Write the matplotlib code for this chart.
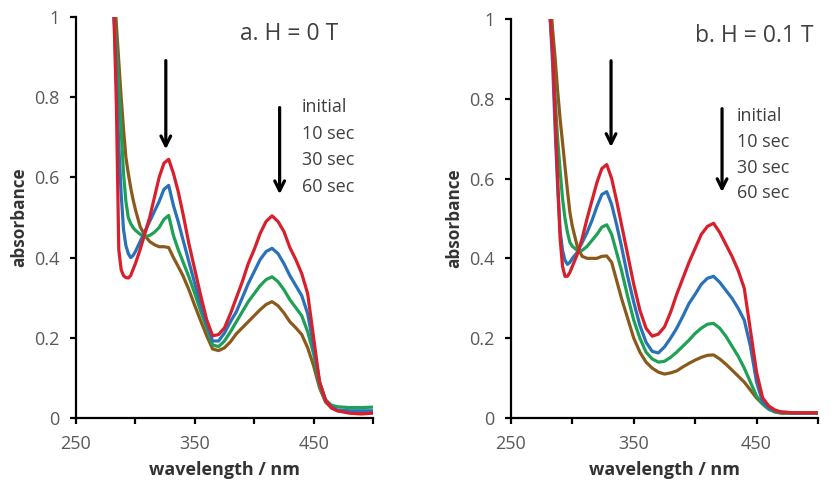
import matplotlib
matplotlib.use('Agg')
import matplotlib.pyplot as plt

plt.rcParams['font.family'] = ['Open Sans', 'DejaVu Sans']

wavelength = [282, 284, 286, 288, 290, 292, 294, 296, 298, 300, 304, 308, 312, 316,
              320, 324, 328, 332, 336, 340, 345, 350, 355, 360, 365, 370, 375, 380,
              385, 390, 395, 400, 405, 410, 415, 420, 425, 430, 435, 440, 445, 450,
              455, 460, 465, 470, 480, 490, 500]

# panel a, H = 0 T
a_initial = [1.0, 0.78, 0.42, 0.37, 0.355, 0.35, 0.349, 0.355, 0.37, 0.385, 0.42, 0.46, 0.50, 0.55,
             0.60, 0.635, 0.645, 0.61, 0.565, 0.51, 0.435, 0.37, 0.305, 0.245, 0.205, 0.208, 0.225, 0.26,
             0.30, 0.34, 0.385, 0.42, 0.46, 0.49, 0.504, 0.49, 0.465, 0.425, 0.395, 0.36, 0.31, 0.20,
             0.09, 0.045, 0.025, 0.018, 0.012, 0.01, 0.012]
a_10 = [1.0, 0.85, 0.68, 0.56, 0.47, 0.43, 0.41, 0.40, 0.405, 0.415, 0.44, 0.465, 0.49, 0.515,
        0.54, 0.57, 0.58, 0.53, 0.49, 0.445, 0.39, 0.335, 0.283, 0.235, 0.192, 0.192, 0.212, 0.24,
        0.265, 0.30, 0.335, 0.365, 0.395, 0.415, 0.423, 0.41, 0.385, 0.355, 0.33, 0.305, 0.26, 0.18,
        0.09, 0.045, 0.028, 0.02, 0.018, 0.018, 0.018]
a_30 = [1.0, 0.92, 0.82, 0.72, 0.61, 0.54, 0.50, 0.485, 0.475, 0.468, 0.458, 0.452, 0.455, 0.463,
        0.475, 0.495, 0.505, 0.455, 0.42, 0.39, 0.352, 0.31, 0.266, 0.225, 0.182, 0.178, 0.192, 0.215,
        0.24, 0.265, 0.29, 0.31, 0.33, 0.345, 0.352, 0.34, 0.32, 0.295, 0.275, 0.255, 0.215, 0.16,
        0.08, 0.045, 0.032, 0.028, 0.026, 0.026, 0.027]
a_60 = [1.08, 0.98, 0.89, 0.80, 0.72, 0.65, 0.61, 0.575, 0.545, 0.52, 0.477, 0.455, 0.44, 0.432,
        0.427, 0.427, 0.425, 0.40, 0.378, 0.355, 0.32, 0.28, 0.242, 0.205, 0.172, 0.168, 0.175, 0.19,
        0.21, 0.225, 0.24, 0.255, 0.27, 0.283, 0.29, 0.28, 0.262, 0.24, 0.225, 0.208, 0.175, 0.13,
        0.075, 0.04, 0.025, 0.018, 0.015, 0.015, 0.016]

# panel b, H = 0.1 T
b_initial = [1.0, 0.92, 0.76, 0.60, 0.45, 0.38, 0.355, 0.355, 0.365, 0.38, 0.41, 0.45, 0.50, 0.545,
             0.59, 0.625, 0.635, 0.60, 0.545, 0.485, 0.41, 0.335, 0.27, 0.225, 0.205, 0.21, 0.228, 0.265,
             0.31, 0.35, 0.39, 0.425, 0.46, 0.48, 0.488, 0.465, 0.435, 0.405, 0.37, 0.325, 0.22, 0.115,
             0.05, 0.03, 0.02, 0.015, 0.013, 0.013, 0.013]
b_10 = [1.0, 0.88, 0.72, 0.58, 0.47, 0.42, 0.395, 0.385, 0.39, 0.40, 0.415, 0.44, 0.465, 0.495,
        0.53, 0.56, 0.567, 0.535, 0.485, 0.43, 0.355, 0.29, 0.232, 0.19, 0.167, 0.163, 0.178, 0.20,
        0.225, 0.255, 0.287, 0.31, 0.335, 0.35, 0.355, 0.34, 0.32, 0.30, 0.275, 0.245, 0.18, 0.09,
        0.04, 0.025, 0.018, 0.015, 0.013, 0.013, 0.013]
b_30 = [1.0, 0.92, 0.80, 0.70, 0.62, 0.55, 0.50, 0.465, 0.44, 0.43, 0.42, 0.42, 0.43, 0.445,
        0.46, 0.478, 0.484, 0.46, 0.415, 0.37, 0.305, 0.245, 0.20, 0.165, 0.148, 0.14, 0.142, 0.152,
        0.165, 0.18, 0.195, 0.212, 0.225, 0.235, 0.237, 0.225, 0.205, 0.18, 0.155, 0.125, 0.09, 0.055,
        0.035, 0.022, 0.016, 0.013, 0.012, 0.012, 0.012]
b_60 = [1.05, 0.97, 0.90, 0.82, 0.75, 0.69, 0.63, 0.57, 0.515, 0.48, 0.43, 0.405, 0.40, 0.40,
        0.40, 0.405, 0.406, 0.39, 0.345, 0.30, 0.25, 0.20, 0.165, 0.14, 0.125, 0.115, 0.11, 0.113,
        0.118, 0.128, 0.137, 0.145, 0.152, 0.157, 0.158, 0.148, 0.135, 0.12, 0.105, 0.09, 0.07, 0.05,
        0.035, 0.022, 0.015, 0.012, 0.012, 0.012, 0.012]

series_labels = ['initial', '10 sec', '30 sec', '60 sec']
colors = ['#d8202c', '#2a72b8', '#1fa055', '#8a5a1c']


def draw_panel(ax, curves, title, title_x, arrows, label_x, label_y):
    # draw oldest last -> red on top
    for ys, c in reversed(list(zip(curves, colors))):
        ax.plot(wavelength, ys, color=c, lw=2.3, solid_capstyle='round')
    ax.set_xlim(250, 500)
    ax.set_ylim(0, 1)
    ax.set_xticks([250, 300, 350, 400, 450, 500])
    ax.set_xticklabels(['250', '', '350', '', '450', ''])
    ax.set_yticks([0, 0.2, 0.4, 0.6, 0.8, 1])
    ax.set_yticklabels(['0', '0.2', '0.4', '0.6', '0.8', '1'])
    for s in ['top', 'right']:
        ax.spines[s].set_visible(False)
    for s in ['left', 'bottom']:
        ax.spines[s].set_linewidth(1.6)
    ax.tick_params(direction='out', length=4, width=1.6, labelsize=13,
                   labelcolor='#595959')
    ax.tick_params(axis='x', pad=8)
    ax.tick_params(axis='y', pad=8)
    ax.set_xlabel('wavelength / nm', fontsize=13, fontweight='bold', color='#333333', labelpad=6)
    ax.set_ylabel('absorbance', fontsize=12.3, fontweight='bold', color='#333333', labelpad=4)
    ax.text(title_x, 0.958, title, fontsize=16.5, color='#404040', va='center', ha='left')
    for x, y0, y1 in arrows:
        ax.annotate('', xy=(x, y1), xytext=(x, y0),
                    arrowprops=dict(arrowstyle='->, head_width=0.35, head_length=0.7',
                                    lw=2.3, color='black'))
    for lab, y in zip(series_labels, label_y):
        ax.text(label_x, y, lab, fontsize=13, color='#404040', va='center', ha='left')


fig = plt.figure(figsize=(8.36, 4.83), dpi=100)
ax1 = fig.add_axes([0.0909, 0.1346, 0.3553, 0.8304])
ax2 = fig.add_axes([0.6112, 0.1346, 0.3672, 0.8263])

draw_panel(ax1, [a_initial, a_10, a_30, a_60], 'a. H = 0 T', 388,
           [(325.6, 0.898, 0.663), (421.4, 0.781, 0.551)],
           440, [0.776, 0.708, 0.643, 0.576])
draw_panel(ax2, [b_initial, b_10, b_30, b_60], 'b. H = 0.1 T', 400,
           [(331.5, 0.902, 0.672), (421.9, 0.782, 0.559)],
           434, [0.757, 0.692, 0.627, 0.563])

fig.savefig('out.png', dpi=100)
